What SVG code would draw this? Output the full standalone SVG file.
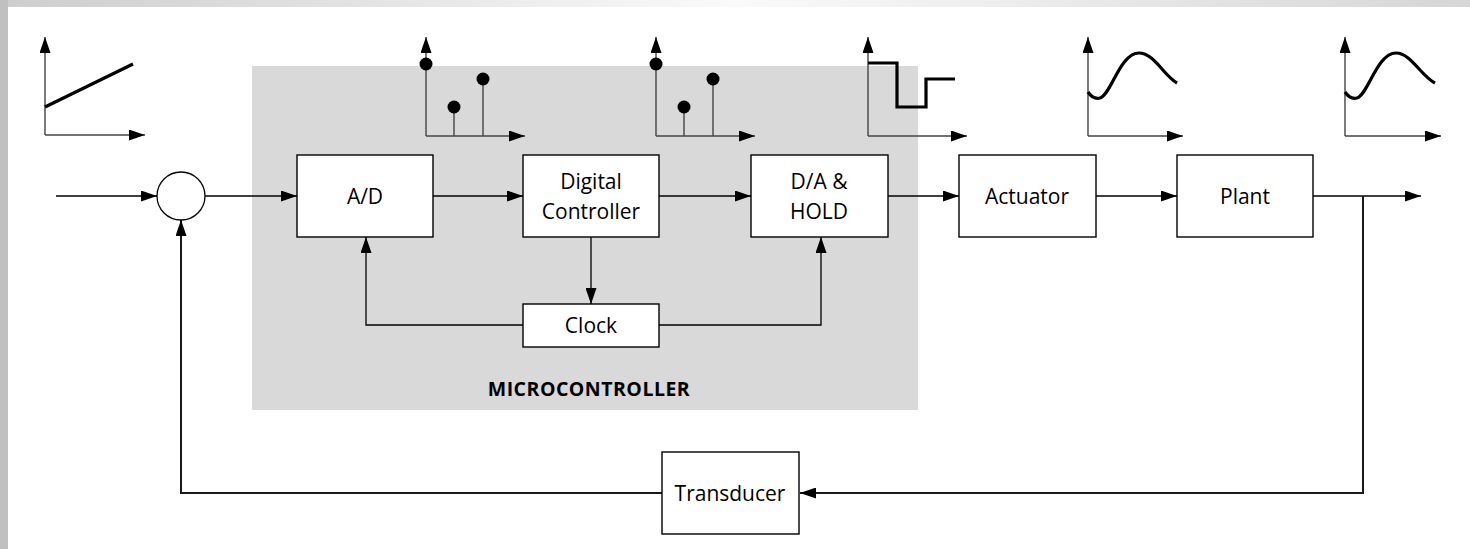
<svg xmlns="http://www.w3.org/2000/svg" width="1470" height="549" viewBox="0 0 1470 549">
  <defs>
    <linearGradient id="topBand" x1="0" y1="0" x2="1" y2="0">
      <stop offset="0" stop-color="#cdcdcd"/>
      <stop offset="0.5" stop-color="#fafafa"/>
      <stop offset="1" stop-color="#d6d6d6"/>
    </linearGradient>
    <marker id="arrow" markerUnits="userSpaceOnUse" markerWidth="16" markerHeight="11" refX="16" refY="5.5" orient="auto">
      <path d="M0,0 L16,5.5 L0,11 Z" fill="#000"/>
    </marker>
    <style>
      .box { fill: #fff; stroke: #000; stroke-width: 1.4; }
      .lbl { font-family: "Open Sans", "Liberation Sans", sans-serif; font-size: 21px; fill: #000; text-anchor: middle; }
      .title { font-family: "Open Sans", "Liberation Sans", sans-serif; font-size: 19.5px; font-weight: bold; letter-spacing: 0.5px; fill: #000; text-anchor: middle; }
      .wire { fill: none; stroke: #000; stroke-width: 1.3; }
      .fb { fill: none; stroke: #1a1a1a; stroke-width: 2; }
      .axis { fill: none; stroke: #444; stroke-width: 1.4; }
      .sig { fill: none; stroke: #000; stroke-width: 3.2; stroke-linejoin: miter; }
      .stem { stroke: #444; stroke-width: 1.4; }
    </style>
  </defs>

  <!-- page frame -->
  <rect x="0" y="0" width="1470" height="549" fill="#fff"/>
  <rect x="0" y="0" width="1470" height="7" fill="url(#topBand)"/>
  <rect x="0" y="0" width="8" height="549" fill="#c0c0c0"/>

  <!-- microcontroller region -->
  <g id="microcontroller">
    <rect x="252" y="66" width="666" height="344" fill="#d9d9d9"/>
    <text class="title" x="589" y="396">MICROCONTROLLER</text>
  </g>

  <!-- signal sketches -->
  <g id="plot-ramp">
    <line class="axis" x1="45" y1="135" x2="45" y2="37" marker-end="url(#arrow)"/>
    <line class="axis" x1="45" y1="135" x2="145" y2="135" marker-end="url(#arrow)"/>
    <line class="sig" x1="45" y1="107" x2="133" y2="64"/>
  </g>
  <g id="plot-samples-1">
    <line class="axis" x1="426" y1="136" x2="426" y2="37" marker-end="url(#arrow)"/>
    <line class="axis" x1="426" y1="136" x2="525" y2="136" marker-end="url(#arrow)"/>
    <line class="stem" x1="454" y1="136" x2="454" y2="107"/>
    <line class="stem" x1="483" y1="136" x2="483" y2="79"/>
    <circle cx="426" cy="64" r="6.5"/>
    <circle cx="454" cy="107" r="6.5"/>
    <circle cx="483" cy="79" r="6.5"/>
  </g>
  <g id="plot-samples-2">
    <line class="axis" x1="656" y1="136" x2="656" y2="37" marker-end="url(#arrow)"/>
    <line class="axis" x1="656" y1="136" x2="755" y2="136" marker-end="url(#arrow)"/>
    <line class="stem" x1="684" y1="136" x2="684" y2="107"/>
    <line class="stem" x1="713" y1="136" x2="713" y2="79"/>
    <circle cx="656" cy="64" r="6.5"/>
    <circle cx="684" cy="107" r="6.5"/>
    <circle cx="713" cy="79" r="6.5"/>
  </g>
  <g id="plot-hold">
    <line class="axis" x1="868" y1="136" x2="868" y2="37" marker-end="url(#arrow)"/>
    <line class="axis" x1="868" y1="136" x2="967" y2="136" marker-end="url(#arrow)"/>
    <polyline class="sig" points="868,63 897,63 897,107 926,107 926,79 955,79"/>
  </g>
  <g id="plot-actuator">
    <line class="axis" x1="1088" y1="136" x2="1088" y2="37" marker-end="url(#arrow)"/>
    <line class="axis" x1="1088" y1="136" x2="1183" y2="136" marker-end="url(#arrow)"/>
    <path class="sig" d="M1088,92 C1092,98 1096,99 1100,98 C1111,95 1120,53 1139,53 C1154,53 1164,76 1177,83"/>
  </g>
  <g id="plot-plant">
    <line class="axis" x1="1345" y1="136" x2="1345" y2="37" marker-end="url(#arrow)"/>
    <line class="axis" x1="1345" y1="136" x2="1441" y2="136" marker-end="url(#arrow)"/>
    <path class="sig" d="M1345,92 C1349,98 1353,99 1357,98 C1368,95 1377,53 1396,53 C1411,53 1421,76 1435,83"/>
  </g>

  <!-- connectors -->
  <g id="connectors">
    <line class="wire" x1="56" y1="196" x2="157" y2="196" marker-end="url(#arrow)"/>
    <line class="wire" x1="205" y1="196" x2="297" y2="196" marker-end="url(#arrow)"/>
    <line class="wire" x1="433" y1="196" x2="523" y2="196" marker-end="url(#arrow)"/>
    <line class="wire" x1="659" y1="196" x2="751" y2="196" marker-end="url(#arrow)"/>
    <line class="wire" x1="888" y1="196" x2="959" y2="196" marker-end="url(#arrow)"/>
    <line class="wire" x1="1096" y1="196" x2="1177" y2="196" marker-end="url(#arrow)"/>
    <line class="wire" x1="1313" y1="196" x2="1421" y2="196" marker-end="url(#arrow)"/>
    <line class="wire" x1="591" y1="237" x2="591" y2="304" marker-end="url(#arrow)"/>
    <polyline class="wire" points="523,325 366,325 366,237" marker-end="url(#arrow)"/>
    <polyline class="wire" points="659,325 821,325 821,237" marker-end="url(#arrow)"/>
    <polyline class="fb" points="1363,196 1363,493 800,493" marker-end="url(#arrow)"/>
    <polyline class="fb" points="662,493 181,493 181,220" marker-end="url(#arrow)"/>
  </g>

  <!-- blocks -->
  <g id="summing-junction">
    <circle cx="181" cy="196" r="24" fill="#fff" stroke="#000" stroke-width="1.3"/>
  </g>
  <g id="ad">
    <rect class="box" x="297" y="155" width="136" height="82"/>
    <text class="lbl" x="365" y="204">A/D</text>
  </g>
  <g id="digital-controller">
    <rect class="box" x="523" y="155" width="136" height="82"/>
    <text class="lbl" x="591" y="189">Digital</text>
    <text class="lbl" x="591" y="219">Controller</text>
  </g>
  <g id="clock">
    <rect class="box" x="523" y="304" width="136" height="43"/>
    <text class="lbl" x="591" y="333">Clock</text>
  </g>
  <g id="da-hold">
    <rect class="box" x="751" y="155" width="137" height="82"/>
    <text class="lbl" x="819" y="189">D/A &amp;</text>
    <text class="lbl" x="819" y="219">HOLD</text>
  </g>
  <g id="actuator">
    <rect class="box" x="959" y="155" width="137" height="82"/>
    <text class="lbl" x="1027" y="204">Actuator</text>
  </g>
  <g id="plant">
    <rect class="box" x="1177" y="155" width="136" height="82"/>
    <text class="lbl" x="1245" y="204">Plant</text>
  </g>
  <g id="transducer">
    <rect class="box" x="662" y="452" width="137" height="82"/>
    <text class="lbl" x="730" y="501">Transducer</text>
  </g>
</svg>
